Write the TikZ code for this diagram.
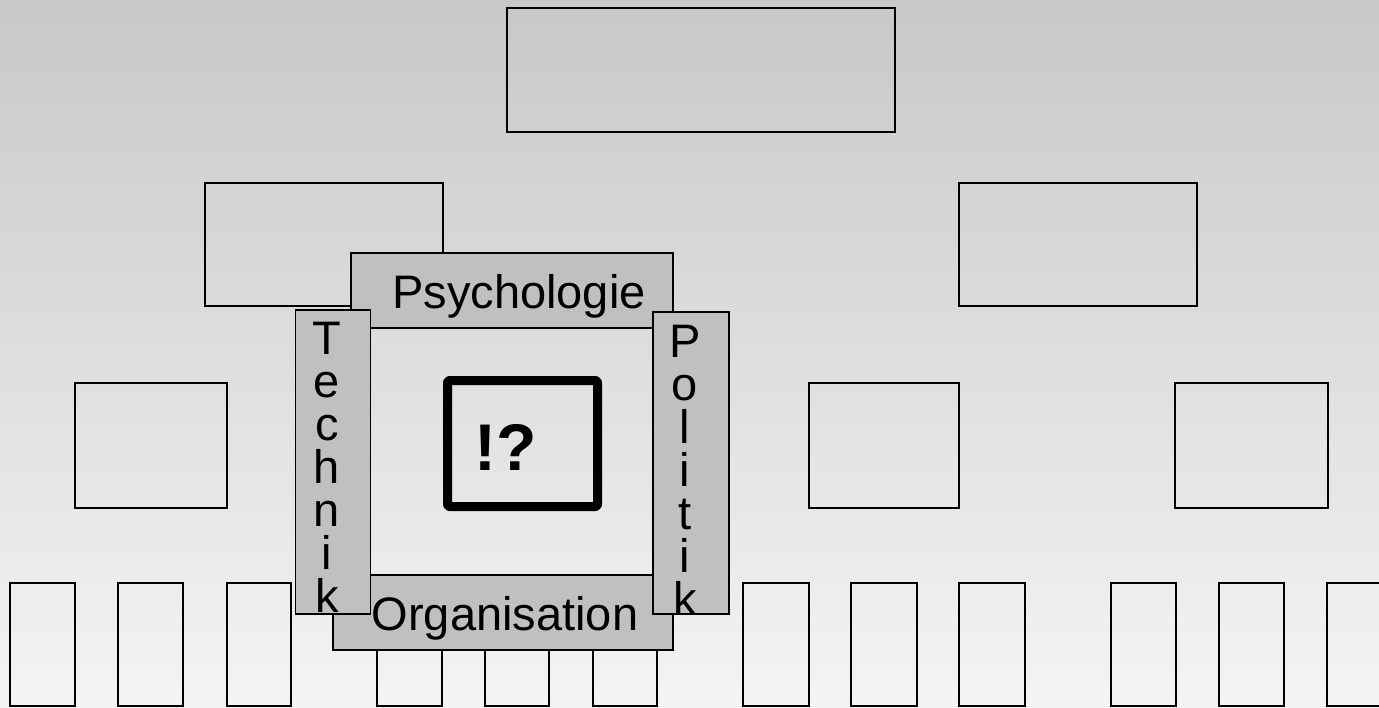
\documentclass[tikz,border=0pt]{standalone}
\usepackage{fontspec}
\setmainfont{Liberation Sans}
\definecolor{bgtop}{HTML}{C8C8C8}
\definecolor{bgbot}{HTML}{F4F4F4}
\definecolor{barfill}{HTML}{C0C0C0}
\tikzset{
  box/.style={draw=black, line width=1.3pt},
  bar/.style={draw=black, line width=1.3pt, fill=barfill, inner sep=0pt},
  lab/.style={font=\fontsize{47}{43}\selectfont, inner sep=0pt},
  vlab/.style={font=\fontsize{47}{43}\selectfont, inner sep=0pt, align=center},
  core/.style={draw=black, line width=9pt, rounded corners=2pt, line join=round}
}
\begin{document}
\begin{tikzpicture}[x=1pt,y=-1pt]
\useasboundingbox (0,0) rectangle (1379,707);
\shade[top color=bgtop, bottom color=bgbot] (0,0) rectangle (1379,707);
% hierarchy boxes
\draw[box] (507,8) rectangle (895,132);
\draw[box] (205,183) rectangle (443,306);
\draw[box] (959,183) rectangle (1197,306);
\draw[box] (75,383) rectangle (227,508);
\draw[box] (809,383) rectangle (959,508);
\draw[box] (1175,383) rectangle (1328,508);
% bottom row
\foreach \a/\b in {10/75,118/183,227/291,377/442,485/549,593/657,743/809,851/917,959/1025,1111/1176,1219/1284,1327/1400}
  \draw[box] (\a,583) rectangle (\b,706);
% bars
\node[bar, minimum width=322pt, minimum height=75pt] (psy) at (512,290.5) {};
\node[bar, minimum width=340pt, minimum height=75pt] (org) at (503,612.5) {};
\node[bar, minimum width=75pt, minimum height=304pt] (tec) at (333,462) {};
\node[bar, minimum width=76pt, minimum height=302pt] (pol) at (691,463) {};
\node[lab, anchor=base] (psyt) at (519,308) {Psychologie};
\node[lab, anchor=base] (orgt) at (505,630) {Organisation};
\node[vlab] (tect) at (327,467.5) {T\\e\\c\\h\\n\\i\\k};
\node[vlab] (polt) at (685,470) {P\\o\\l\\i\\t\\i\\k};
% core
\draw[core] (447.5,380.5) rectangle (597.5,506.5);
\node[font=\fontsize{66}{66}\selectfont\bfseries, inner sep=0pt, anchor=base] (q) at (506,470) {!?};
\end{tikzpicture}
\end{document}
